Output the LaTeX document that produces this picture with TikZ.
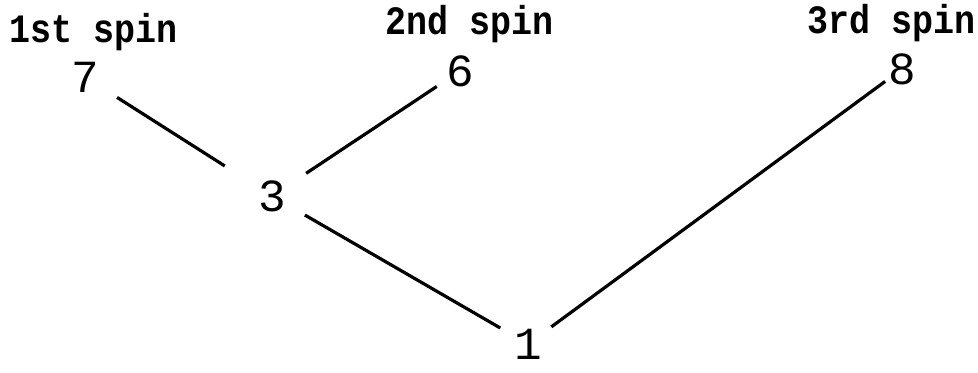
\documentclass[tikz,border=0pt]{standalone}
\usepackage{fontspec}
\usepackage{graphicx}
\setmonofont{Liberation Mono}
\begin{document}
\begin{tikzpicture}[x=0.5pt,y=-0.5pt,
  lbl/.style={font=\ttfamily\bfseries\fontsize{17.5}{20}\selectfont, inner sep=0pt},
  num/.style={font=\ttfamily\fontsize{23}{26}\selectfont, inner sep=0pt},
  conn/.style={line width=1.6pt}]
\useasboundingbox (0,0) rectangle (978,372);
\node[lbl] (l1) at (94,32) {\scalebox{1}[1.15]{1st spin}};
\node[lbl] (l2) at (470,24) {\scalebox{1}[1.15]{2nd spin}};
\node[lbl] (l3) at (891,23) {\scalebox{1}[1.15]{3rd spin}};
\node[num] (n7) at (85,77) {7};
\node[num] (n6) at (460,71) {6};
\node[num] (n8) at (902,69) {8};
\node[num] (n3) at (272,196) {3};
\node[num] (n1) at (528,344) {1};
\draw[conn, shorten <=19pt, shorten >=28pt] (n7.center) -- (n3.center);
\draw[conn, shorten <=20.5pt, shorten >=14pt] (n3.center) -- (n6.center);
\draw[conn, shorten <=19pt, shorten >=16pt] (n3.center) -- (n1.center);
\draw[conn, shorten <=14.5pt, shorten >=10.5pt] (n1.center) -- (n8.center);
\end{tikzpicture}
\end{document}
